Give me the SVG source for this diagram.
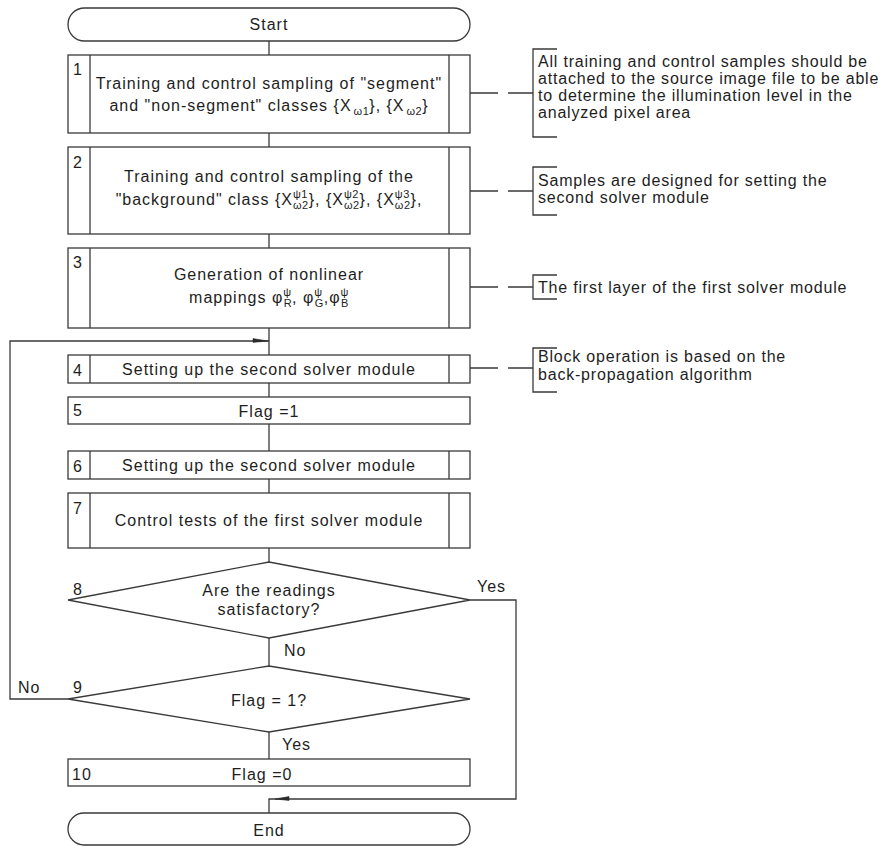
<svg xmlns="http://www.w3.org/2000/svg" width="886" height="846" viewBox="0 0 886 846">
  <defs>
    <style>
      .shape { fill: #ffffff; stroke: #3a3a3a; stroke-width: 1.3; }
      .div { fill: none; stroke: #3a3a3a; stroke-width: 1.3; }
      .line { fill: none; stroke: #3a3a3a; stroke-width: 1.3; }
      .head { fill: #2a2a2a; stroke: #2a2a2a; stroke-width: 0.6; }
      text { font-family: "Liberation Sans", Arial, sans-serif; font-size: 16px; letter-spacing: 1px; fill: #1e1e1e; }
      .c { text-anchor: middle; }
      .s { font-size: 11px; letter-spacing: 0.5px; }
      .note text { letter-spacing: 0.8px; }
    </style>
  </defs>

  <!-- flow connectors -->
  <g id="connectors">
    <path class="line" d="M269 41V55 M269 133V147 M269 234V248 M269 328V355 M269 383V397 M269 424V451 M269 479V493 M269 548V562 M269 638V666 M269 732V759"/>
    <!-- loop back from decision 9 to block 4 -->
    <polyline class="line" points="68,699 10,699 10,341 269,341"/>
    <polygon class="head" points="268,341 253,338.6 253,342.4"/>
    <!-- exit from decision 8 to End -->
    <polyline class="line" points="470,600 516,600 516,799 269,799 269,813"/>
    <polygon class="head" points="275,799 289,796.6 289,800.4"/>
    <!-- annotation leaders -->
    <path class="line" d="M470 93H498 M508 93H533 M470 191H498 M508 191H533 M470 287H498 M508 287H533 M470 368H498 M508 368H533"/>
    <path class="line" d="M557 49H533V137H557 M557 167H533V215H557 M557 275H533V299H557 M557 348H533V392H557"/>
  </g>

  <g id="start">
    <rect class="shape" x="68" y="8" width="402" height="33" rx="16.5" ry="16.5"/>
    <text class="c" x="269" y="30">Start</text>
  </g>

  <g id="step1">
    <rect class="shape" x="68" y="55" width="402" height="78"/>
    <path class="div" d="M90 55V133 M449 55V133"/>
    <text x="73" y="75">1</text>
    <text class="c" x="269" y="89">Training and control sampling of "segment"</text>
    <text class="c" x="269" y="111">and "non-segment" classes {X<tspan class="s" dx="2" dy="4">ω1</tspan><tspan dy="-4">}, {X</tspan><tspan class="s" dx="2" dy="4">ω2</tspan><tspan dy="-4">}</tspan></text>
  </g>

  <g id="step2">
    <rect class="shape" x="68" y="147" width="402" height="87"/>
    <path class="div" d="M90 147V234 M449 147V234"/>
    <text x="73" y="168">2</text>
    <text class="c" x="269" y="182">Training and control sampling of the</text>
    <text class="c" x="269" y="205">"background" class {X<tspan class="s" dy="-7">ψ1</tspan><tspan class="s" dx="-15" dy="11">ω2</tspan><tspan dy="-4">}, {X</tspan><tspan class="s" dy="-7">ψ2</tspan><tspan class="s" dx="-15" dy="11">ω2</tspan><tspan dy="-4">}, {X</tspan><tspan class="s" dy="-7">ψ3</tspan><tspan class="s" dx="-15" dy="11">ω2</tspan><tspan dy="-4">},</tspan></text>
  </g>

  <g id="step3">
    <rect class="shape" x="68" y="248" width="402" height="80"/>
    <path class="div" d="M90 248V328 M449 248V328"/>
    <text x="73" y="268">3</text>
    <text class="c" x="269" y="280">Generation of nonlinear</text>
    <text class="c" x="269" y="303">mappings φ<tspan class="s" font-size="10" dy="-7">ψ</tspan><tspan class="s" font-size="10" dx="-8" dy="11">R</tspan><tspan dy="-4">, φ</tspan><tspan class="s" font-size="10" dy="-7">ψ</tspan><tspan class="s" font-size="10" dx="-8" dy="11">G</tspan><tspan dy="-4">,φ</tspan><tspan class="s" font-size="10" dy="-7">ψ</tspan><tspan class="s" font-size="10" dx="-8" dy="11">B</tspan></text>
  </g>

  <g id="step4">
    <rect class="shape" x="68" y="355" width="402" height="28"/>
    <path class="div" d="M90 355V383 M449 355V383"/>
    <text x="73" y="376">4</text>
    <text class="c" x="269" y="375">Setting up the second solver module</text>
  </g>

  <g id="step5">
    <rect class="shape" x="68" y="397" width="402" height="27"/>
    <text x="73" y="416">5</text>
    <text class="c" x="269" y="417">Flag =1</text>
  </g>

  <g id="step6">
    <rect class="shape" x="68" y="451" width="402" height="28"/>
    <path class="div" d="M90 451V479 M449 451V479"/>
    <text x="73" y="472">6</text>
    <text class="c" x="269" y="471">Setting up the second solver module</text>
  </g>

  <g id="step7">
    <rect class="shape" x="68" y="493" width="402" height="55"/>
    <path class="div" d="M90 493V548 M449 493V548"/>
    <text x="73" y="514">7</text>
    <text class="c" x="269" y="526">Control tests of the first solver module</text>
  </g>

  <g id="decision8">
    <polygon class="shape" points="68,600 269,562 470,600 269,638"/>
    <text x="73" y="595">8</text>
    <text class="c" x="269" y="596">Are the readings</text>
    <text class="c" x="269" y="615">satisfactory?</text>
    <text x="477" y="592">Yes</text>
    <text x="284" y="656">No</text>
  </g>

  <g id="decision9">
    <polygon class="shape" points="68,699 269,666 470,699 269,732"/>
    <text x="73" y="693">9</text>
    <text x="18" y="693">No</text>
    <text class="c" x="269" y="706">Flag = 1?</text>
    <text x="282" y="750">Yes</text>
  </g>

  <g id="step10">
    <rect class="shape" x="68" y="759" width="402" height="27"/>
    <text x="72" y="780">10</text>
    <text class="c" x="262" y="780">Flag =0</text>
  </g>

  <g id="end">
    <rect class="shape" x="68" y="813" width="402" height="32" rx="16" ry="16"/>
    <text class="c" x="269" y="836">End</text>
  </g>

  <!-- side notes -->
  <g id="note1" class="note">
    <text x="538" y="67">All training and control samples should be</text>
    <text x="538" y="84">attached to the source image file to be able</text>
    <text x="538" y="101">to determine the illumination level in the</text>
    <text x="538" y="118">analyzed pixel area</text>
  </g>
  <g id="note2" class="note">
    <text x="538" y="186">Samples are designed for setting the</text>
    <text x="538" y="203">second solver module</text>
  </g>
  <g id="note3" class="note">
    <text x="538" y="293">The first layer of the first solver module</text>
  </g>
  <g id="note4" class="note">
    <text x="538" y="362">Block operation is based on the</text>
    <text x="538" y="380">back-propagation algorithm</text>
  </g>
</svg>
